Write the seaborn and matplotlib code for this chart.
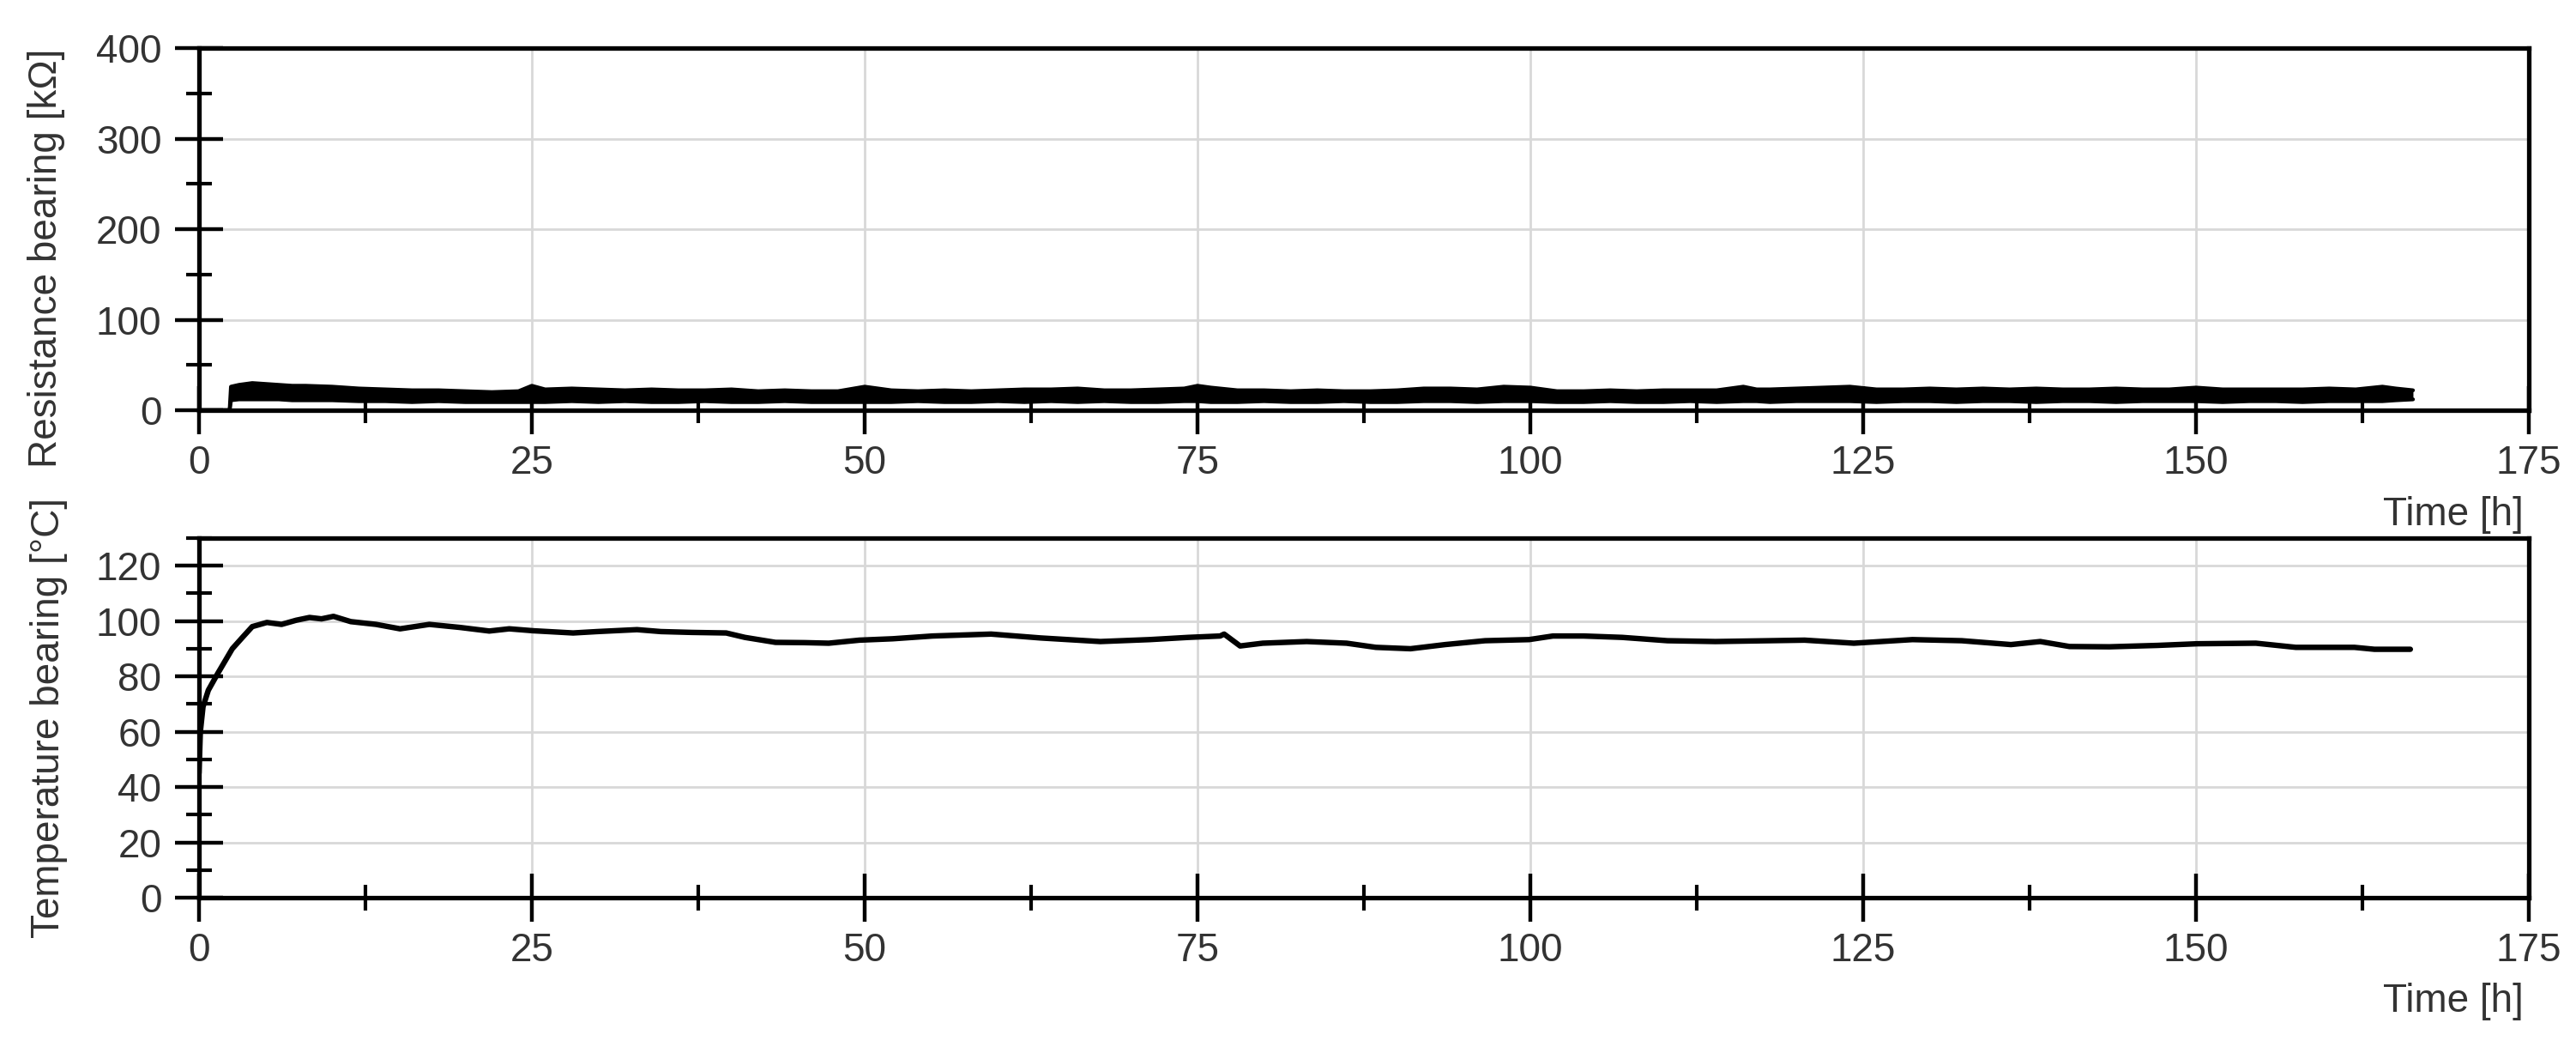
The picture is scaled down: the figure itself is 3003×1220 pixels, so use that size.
import matplotlib
matplotlib.use("Agg")
import matplotlib.pyplot as plt
from matplotlib.ticker import MultipleLocator
import seaborn as sns
import pandas as pd

# ---------------- data ----------------
res_time = [0, 2.3, 2.4, 3, 4, 5, 6, 7, 8, 10, 12, 14, 16, 18, 20, 22, 24, 25, 26, 28,
            30, 32, 34, 36, 38, 40, 42, 44, 46, 48, 50, 52, 54, 56, 58, 60, 62, 64, 66, 68,
            70, 72, 74, 75, 76, 78, 80, 82, 84, 86, 88, 90, 92, 94, 96, 98, 100, 102, 104, 106,
            108, 110, 112, 114, 116, 117, 118, 120, 122, 124, 126, 128, 130, 132, 134, 136, 138, 140, 142, 144,
            146, 148, 150, 152, 154, 156, 158, 160, 162, 164, 165, 166.3]
res_upper = [0, 0, 26, 28, 30, 29, 28, 27, 27, 26, 24, 23, 22, 22, 21, 20, 21, 27, 23, 24,
             23, 22, 23, 22, 22, 23, 21, 22, 21, 21, 26, 22, 21, 22, 21, 22, 23, 23, 24, 22,
             22, 23, 24, 27, 25, 22, 22, 21, 22, 21, 21, 22, 24, 24, 23, 26, 25, 21, 21, 22,
             21, 22, 22, 22, 26, 23, 23, 24, 25, 26, 23, 23, 24, 23, 24, 23, 24, 23, 23, 24,
             23, 23, 25, 23, 23, 23, 23, 24, 23, 26, 24, 22]
res_lower = [0, 0, 11, 12, 12, 12, 12, 11, 11, 11, 10, 10, 9, 10, 9, 9, 9, 9, 9, 10,
             9, 10, 9, 9, 10, 9, 9, 10, 9, 9, 9, 9, 10, 9, 9, 10, 9, 10, 9, 10,
             9, 9, 10, 10, 9, 9, 10, 9, 9, 10, 9, 9, 10, 10, 9, 10, 10, 9, 9, 10,
             9, 9, 10, 9, 10, 10, 9, 10, 10, 10, 9, 10, 10, 9, 10, 10, 9, 10, 10, 9,
             10, 10, 10, 9, 10, 10, 9, 10, 10, 10, 11, 12]

temp_time = [0, 0.1, 0.3, 0.7, 1.4, 2.5, 3.3, 4.0, 5.1, 6.2, 7.3, 8.3, 9.2, 10.1, 11.4,
             13.3, 15.1, 17.3, 19.6, 21.8, 23.3, 25.1, 28.1, 29.9, 32.9, 34.7, 37.0, 39.6, 41.0,
             43.3, 45.5, 47.3, 49.6, 52.1, 55.1, 59.5, 63.2, 67.7, 71.4, 74.3, 76.7, 77.0, 78.2,
             79.9, 83.2, 86.2, 88.4, 91.0, 93.6, 96.6, 99.9, 101.7, 104.0, 106.9, 110.3, 113.9,
             120.6, 124.3, 128.7, 132.4, 136.1, 138.3, 140.5, 143.5, 147.1, 150.1, 154.5, 157.5,
             161.9, 163.4, 166.1]
temp_value = [45, 60, 69, 75, 81, 90, 94.3, 98, 99.5, 98.8, 100.3, 101.3, 100.8, 101.7, 99.8,
              98.8, 97.2, 98.8, 97.7, 96.4, 97.2, 96.5, 95.7, 96.2, 96.9, 96.2, 95.9, 95.7, 94.1,
              92.3, 92.2, 92.0, 93.1, 93.6, 94.6, 95.3, 93.9, 92.6, 93.3, 94.1, 94.6, 95.3, 91.0,
              92.0, 92.6, 92.0, 90.5, 90.0, 91.5, 92.9, 93.3, 94.6, 94.6, 94.1, 92.9, 92.6,
              93.1, 92.0, 93.3, 92.9, 91.5, 92.6, 90.8, 90.7, 91.2, 91.8, 92.0, 90.5,
              90.5, 89.8, 89.8]

x_ticks = [0, 25, 50, 75, 100, 125, 150, 175]
res_ticks = [0, 100, 200, 300, 400]
temp_ticks = [0, 20, 40, 60, 80, 100, 120]
res_label = "Resistance bearing [kΩ]"
temp_label = "Temperature bearing [°C]"
time_label = "Time [h]"

# ---------------- style ----------------
sns.set_theme(style="white")
plt.rcParams["font.family"] = ["Liberation Sans", "DejaVu Sans"]
TXT = "#333333"
FS = 33

res_df = pd.DataFrame({"t": res_time, "hi": res_upper, "lo": res_lower})
temp_df = pd.DataFrame({"t": temp_time, "T": temp_value})

W, H = 3003, 1220
fig = plt.figure(figsize=(W / 100, H / 100), dpi=100)
left, right = 232, 2948
ax1 = fig.add_axes([left / W, 1 - 478 / H, (right - left) / W, (478 - 56) / H])
ax2 = fig.add_axes([left / W, 1 - 1046 / H, (right - left) / W, (1046 - 627) / H])

# resistance band
ax1.fill_between(res_df["t"], res_df["lo"], res_df["hi"], color="black",
                 linewidth=0, zorder=3)
sns.lineplot(data=res_df, x="t", y="hi", ax=ax1, color="black", linewidth=3.2,
             zorder=3, sort=False, estimator=None, solid_capstyle="round",
             solid_joinstyle="round")
sns.lineplot(data=res_df, x="t", y="lo", ax=ax1, color="black", linewidth=3.2,
             zorder=3, sort=False, estimator=None, solid_capstyle="round",
             solid_joinstyle="round")

# temperature
sns.lineplot(data=temp_df, x="t", y="T", ax=ax2, color="black", linewidth=4.6,
             zorder=3, sort=False, estimator=None, solid_capstyle="round",
             solid_joinstyle="round")

for ax, yt, ylim, ylab, lab_y, lab_x in [
    (ax1, res_ticks, (0, 400), res_label, 0.42, -0.0575),
    (ax2, temp_ticks, (0, 130), temp_label, 0.5, -0.0565),
]:
    ax.set_xlim(0, 175)
    ax.set_ylim(*ylim)
    ax.set_xticks(x_ticks)
    ax.set_yticks(yt)
    ax.xaxis.set_minor_locator(MultipleLocator(12.5))
    ax.yaxis.set_minor_locator(MultipleLocator((yt[1] - yt[0]) / 2))
    ax.grid(True, which="major", color="#d8d8d8", linewidth=2.0)
    ax.set_axisbelow(True)
    for s in ax.spines.values():
        s.set_visible(True)
        s.set_color("black")
        s.set_linewidth(3.8)
    ax.tick_params(which="major", direction="inout", length=41, width=3.2,
                   color="black", labelsize=FS, labelcolor=TXT,
                   bottom=True, left=True, top=False, right=False)
    ax.tick_params(axis="x", which="major", pad=8)
    ax.tick_params(axis="y", which="major", pad=11)
    ax.tick_params(which="minor", direction="inout", length=22, width=3.0,
                   color="black", bottom=True, left=True, top=False, right=False)
    ax.set_xlabel("")
    ax.set_ylabel(ylab, fontsize=FS, color=TXT)
    ax.yaxis.set_label_coords(lab_x, lab_y)
    ax.text(1 - 6 / (right - left), -0.317, time_label, transform=ax.transAxes,
            ha="right", va="baseline", fontsize=FS, color=TXT)

fig.savefig("out.png", dpi=100, facecolor="white")
